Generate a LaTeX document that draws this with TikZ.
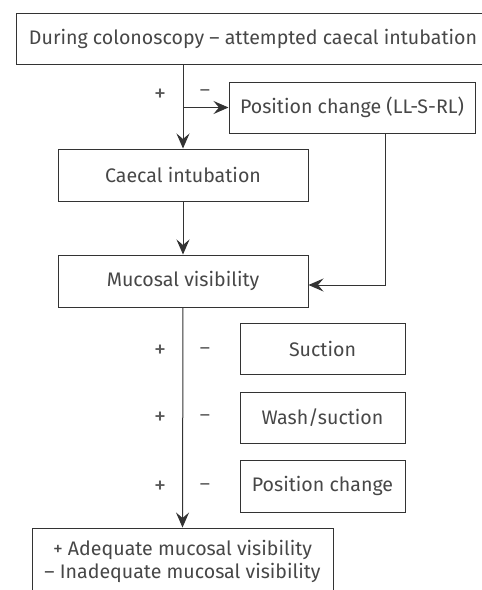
\documentclass[tikz,border=0pt]{standalone}
\usepackage{fontspec}
\setmainfont{Fira Sans}
\usetikzlibrary{arrows.meta}

\begin{document}
\begin{tikzpicture}[x=1pt,y=-1pt,font=\fontsize{19.6}{23}\selectfont]
    \useasboundingbox (0,0) rectangle (482,590);
    \begin{scope}[every node/.style={rectangle,draw=black!80,line width=1pt,
        fill=white,text=black!72,inner sep=0pt,align=center}]
        \node[minimum width=474pt,minimum height=51pt] (during) at (253,38.5) {During colonoscopy -- attempted caecal intubation};
        \node[minimum width=246pt,minimum height=51pt] (llsrl) at (352,107.5) {Position change (LL-S-RL)};
        \node[minimum width=250pt,minimum height=52pt] (caecal) at (183,175) {Caecal intubation};
        \node[minimum width=250pt,minimum height=52pt] (mucosal) at (183,281) {Mucosal visibility};
        \node[minimum width=165pt,minimum height=51pt] (suction) at (322.5,348.5) {Suction};
        \node[minimum width=165pt,minimum height=51pt] (wash) at (322.5,417.5) {Wash/suction};
        \node[minimum width=165pt,minimum height=52pt] (poschange) at (322.5,486) {Position change};
        \node[minimum width=301pt,minimum height=67pt] (result) at (182.5,561.5) {+ Adequate mucosal visibility\\-- Inadequate mucosal visibility};
    \end{scope}
    \begin{scope}[every node/.style={text=black!65,inner sep=0pt}]
        \node[font=\fontsize{24}{24}\selectfont] (p1) at (160,95) {+};
        \node (m1) at (205,93) {--};
        \node[font=\fontsize{24}{24}\selectfont] (p2) at (160,351) {+};
        \node (m2) at (205,351) {--};
        \node[font=\fontsize{24}{24}\selectfont] (p3) at (160,418) {+};
        \node (m3) at (205,418) {--};
        \node[font=\fontsize{24}{24}\selectfont] (p4) at (160,487) {+};
        \node (m4) at (205,487) {--};
    \end{scope}
    \coordinate (split) at (183,107.5);
    \coordinate (bend) at (385,285);
    \begin{scope}[>={Stealth[length=15pt,width=13pt,inset=5.5pt]},
        every path/.style={draw=black!80,line width=1pt}]
        \path [->] (caecal.north |- during.south) -- (caecal.north);
        \path [->] (split) -- (llsrl.west);
        \path [->] (caecal.south) -- (mucosal.north);
        \path [->] (bend |- llsrl.south) -- (bend) -- (mucosal.east |- bend);
        \path [->] (mucosal.south) -- (result.north);
    \end{scope}

\end{tikzpicture}
\end{document}
